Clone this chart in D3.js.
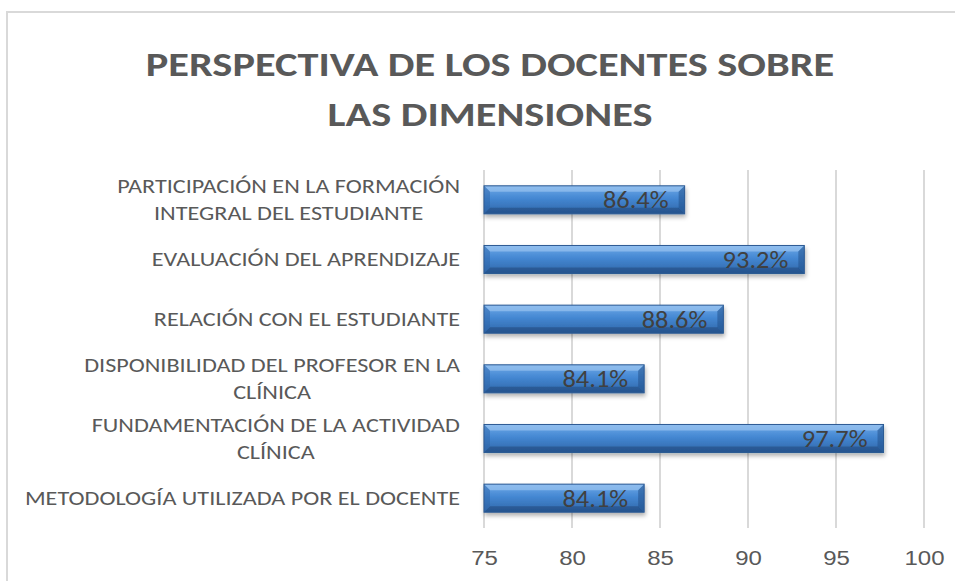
<!DOCTYPE html>
<html>
<head>
<meta charset="utf-8">
<script src="https://cdn.jsdelivr.net/npm/d3@7"></script>
<style>
	body { margin: 0; background: #fff; }
	svg { display: block; font-family: Carlito, Lato, "Liberation Sans", sans-serif; }
</style>
</head>
<body>
<svg id="chart"></svg>
<script>
/*=================
=== Data
=================*/
var categories = [
	['PARTICIPACIÓN EN LA FORMACIÓN', 'INTEGRAL DEL ESTUDIANTE'],
	['EVALUACIÓN DEL APRENDIZAJE'],
	['RELACIÓN CON EL ESTUDIANTE'],
	['DISPONIBILIDAD DEL PROFESOR EN LA', 'CLÍNICA'],
	['FUNDAMENTACIÓN DE LA ACTIVIDAD', 'CLÍNICA'],
	['METODOLOGÍA UTILIZADA POR EL DOCENTE']
];
var values = [86.4, 93.2, 88.6, 84.1, 97.7, 84.1];
var xTicks = [75, 80, 85, 90, 95, 100];
var titleLines = ['PERSPECTIVA DE LOS DOCENTES SOBRE', 'LAS DIMENSIONES'];

/*=================
=== Setup
=================*/
var width = 955, height = 581;
var svg = d3.select('#chart')
	.attr('width', width)
	.attr('height', height);

// the original text is a bit wider than the font we have, so widen it
function widen(sel, f) {
	sel.each(function () {
		var w = this.getComputedTextLength();
		d3.select(this)
			.attr('textLength', w * f)
			.attr('lengthAdjust', 'spacingAndGlyphs');
	});
}

// chart area border
svg.append('rect')
	.attr('x', 7).attr('y', 12)
	.attr('width', width + 10).attr('height', height + 10)
	.attr('fill', '#fff')
	.attr('stroke', '#d9d9d9')
	.attr('stroke-width', 2);

var x = d3.scaleLinear().domain([75, 100]).range([484, 924]);
var y = d3.scaleBand()
	.domain(d3.range(categories.length))
	.range([170, 528])
	.paddingInner(0.53)
	.paddingOuter(0.265);

var defs = svg.append('defs');
var grad = defs.append('linearGradient')
	.attr('id', 'barGrad')
	.attr('x1', 0).attr('y1', 0).attr('x2', 0).attr('y2', 1);
grad.append('stop').attr('offset', '0%').attr('stop-color', '#6ea9e8');
grad.append('stop').attr('offset', '45%').attr('stop-color', '#4487d2');
grad.append('stop').attr('offset', '100%').attr('stop-color', '#2f66a8');

var shadow = defs.append('filter').attr('id', 'shadow')
	.attr('x', '-5%').attr('y', '-30%').attr('width', '110%').attr('height', '180%');
shadow.append('feDropShadow')
	.attr('dx', 1).attr('dy', 3).attr('stdDeviation', 2)
	.attr('flood-color', '#000').attr('flood-opacity', 0.3);

/*=================
=== Title
=================*/
svg.append('g')
	.selectAll('text')
	.data(titleLines)
	.enter()
	.append('text')
	.attr('x', 490)
	.attr('y', (d, i) => 76 + i * 50)
	.attr('text-anchor', 'middle')
	.attr('font-size', 35)
	.attr('font-weight', 'bold')
	.attr('fill', '#595959')
	.text(d => d)
	.call(widen, 1.21);

/*=================
=== Grid + axis
=================*/
svg.append('g')
	.selectAll('line')
	.data(xTicks)
	.enter()
	.append('line')
	.attr('x1', d => x(d)).attr('x2', d => x(d))
	.attr('y1', 170).attr('y2', 528)
	.attr('stroke', '#d9d9d9')
	.attr('stroke-width', 2);

var xAxis = svg.append('g')
	.attr('transform', 'translate(0,545)')
	.call(d3.axisBottom(x).tickValues(xTicks).tickSize(0).tickPadding(6));
xAxis.select('.domain').remove();
xAxis.selectAll('text')
	.attr('font-size', 20)
	.attr('fill', '#595959')
	.style('font-family', 'inherit')
	.call(widen, 1.2);

/*=================
=== Category labels
=================*/
var labelRight = 460;
var lineH = 27;
var labels = svg.append('g')
	.selectAll('text')
	.data(categories)
	.enter()
	.append('text')
	.attr('font-size', 19.5)
	.attr('fill', '#595959')
	.attr('text-anchor', 'middle');

labels.each(function (lines, i) {
	var t = d3.select(this);
	var cy = y(i) + y.bandwidth() / 2;
	var y0 = cy - (lines.length - 1) * lineH / 2;
	lines.forEach((l, j) => {
		t.append('tspan')
			.attr('y', y0 + j * lineH)
			.attr('dy', '0.35em')
			.text(l);
	});
	// widen, then centre the block so its widest line ends at labelRight
	var maxW = 0;
	t.selectAll('tspan').each(function () {
		var w = this.getComputedTextLength() * 1.24;
		d3.select(this).attr('textLength', w).attr('lengthAdjust', 'spacingAndGlyphs');
		maxW = Math.max(maxW, w);
	});
	t.selectAll('tspan').attr('x', labelRight - maxW / 2);
});

/*=================
=== Bars
=================*/
var bev = 6;
var bars = svg.append('g')
	.selectAll('g')
	.data(values)
	.enter()
	.append('g')
	.attr('filter', 'url(#shadow)');

bars.append('rect')
	.attr('x', x(75))
	.attr('y', (d, i) => y(i))
	.attr('width', d => x(d) - x(75))
	.attr('height', y.bandwidth())
	.attr('fill', 'url(#barGrad)');

// bevel faces
function face(pts, fill, op) {
	bars.append('polygon')
		.attr('points', (d, i) => pts(x(75), x(d), y(i), y(i) + y.bandwidth()).map(p => p.join(',')).join(' '))
		.attr('fill', fill)
		.attr('opacity', op);
}
face((x0, x1, y0, y1) => [[x0, y0], [x1, y0], [x1 - bev, y0 + bev], [x0 + bev, y0 + bev]], '#a9cdf4', 0.55);
face((x0, x1, y0, y1) => [[x0, y1], [x1, y1], [x1 - bev, y1 - bev], [x0 + bev, y1 - bev]], '#1d4476', 0.5);
face((x0, x1, y0, y1) => [[x0, y0], [x0 + bev, y0 + bev], [x0 + bev, y1 - bev], [x0, y1]], '#2d62a3', 0.45);
face((x0, x1, y0, y1) => [[x1, y0], [x1 - bev, y0 + bev], [x1 - bev, y1 - bev], [x1, y1]], '#23528c', 0.55);

bars.append('rect')
	.attr('x', x(75))
	.attr('y', (d, i) => y(i))
	.attr('width', d => x(d) - x(75))
	.attr('height', y.bandwidth())
	.attr('fill', 'none')
	.attr('stroke', '#2c5a93')
	.attr('stroke-width', 1);

// value labels
svg.append('g')
	.selectAll('text')
	.data(values)
	.enter()
	.append('text')
	.attr('x', d => x(d) - 16)
	.attr('y', (d, i) => y(i) + y.bandwidth() / 2)
	.attr('dy', '0.36em')
	.attr('text-anchor', 'end')
	.attr('font-size', 24)
	.attr('fill', '#404040')
	.text(d => d3.format('.1f')(d) + '%')
	.call(widen, 1.1);
</script>
</body>
</html>
